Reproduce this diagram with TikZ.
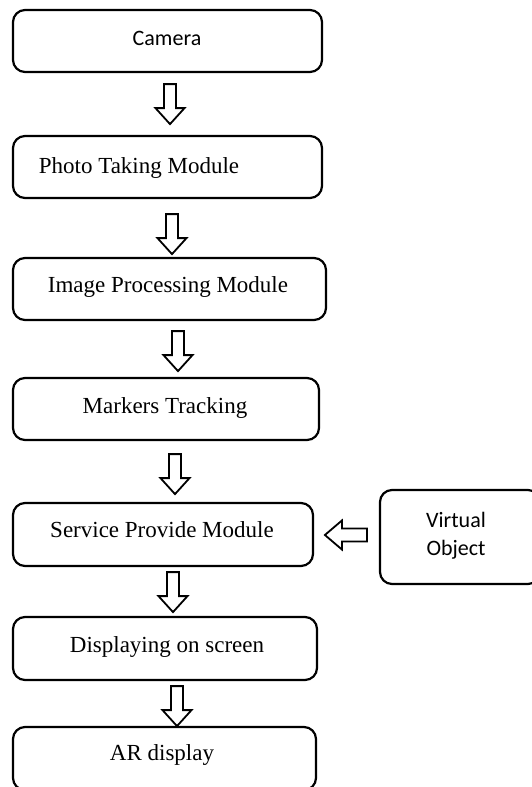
\documentclass[tikz,border=0pt]{standalone}
\usepackage{fontspec}
\usetikzlibrary{calc}
\setmainfont{Liberation Serif}
\newfontfamily\calib{Carlito}
\begin{document}
\begin{tikzpicture}[x=1pt,y=-1pt,
  box/.style={draw, line width=2.2pt, rounded corners=12pt, inner sep=0pt},
  serif/.style={font=\fontsize{23}{27}\selectfont, anchor=base, inner sep=0pt},
  sans/.style={font=\calib\fontsize{22}{27}\selectfont, anchor=base, inner sep=0pt},
  barrow/.style={draw, line width=1.8pt, fill=white, line join=miter},
  darrow/.pic={\path[barrow] (-6,0) -- (-6,24) -- (-14.5,24) -- (0,40) -- (14.5,24) -- (6,24) -- (6,0) -- cycle;}
]
\useasboundingbox (0,0) rectangle (532,787);
\fill[white] (0,0) rectangle (532,787);

\node[box, minimum width=309, minimum height=62] (cam) at (167.5,41) {};
\node[box, minimum width=309, minimum height=62] (photo) at (167.5,167) {};
\node[box, minimum width=313, minimum height=62] (img) at (169.5,289) {};
\node[box, minimum width=306, minimum height=62] (mark) at (166,409) {};
\node[box, minimum width=300, minimum height=63] (serv) at (163,534.5) {};
\node[box, minimum width=304, minimum height=63] (disp) at (165,648.5) {};
\node[box, minimum width=303, minimum height=63] (ar) at (164.5,758.5) {};
\node[box, minimum width=160, minimum height=94] (virt) at (460,537) {};

\node[sans] (tcam) at (167,45) {Camera};
\node[serif] (tphoto) at (139,173) {Photo Taking Module};
\node[serif] (timg) at (168,292) {Image Processing Module};
\node[serif] (tmark) at (165,413) {Markers Tracking};
\node[serif] (tserv) at (162,537) {Service Provide Module};
\node[serif] (tdisp) at (167,652) {Displaying on screen};
\node[serif] (tar) at (162,760) {AR display};
\node[sans] (tvirt1) at (456,527) {Virtual};
\node[sans] (tvirt2) at (456,555) {Object};

\pic at ($(cam.south)+(2.5,11)$) {darrow};
\pic at ($(photo.south)+(4.5,15)$) {darrow};
\pic at ($(img.south)+(8.5,10)$) {darrow};
\pic at ($(mark.south)+(9,13)$) {darrow};
\pic at ($(serv.south)+(10,5)$) {darrow};
\pic at ($(disp.south)+(12,5)$) {darrow};

\coordinate (htail) at ($(virt.west)+(-12,-2)$);
\path[barrow] (htail) ++(0,-6.5) -- ++(-25,0) -- ++(0,-8) -- ++(-17,14.5) -- ++(17,14.5) -- ++(0,-8) -- ++(25,0) -- cycle;
\end{tikzpicture}
\end{document}
